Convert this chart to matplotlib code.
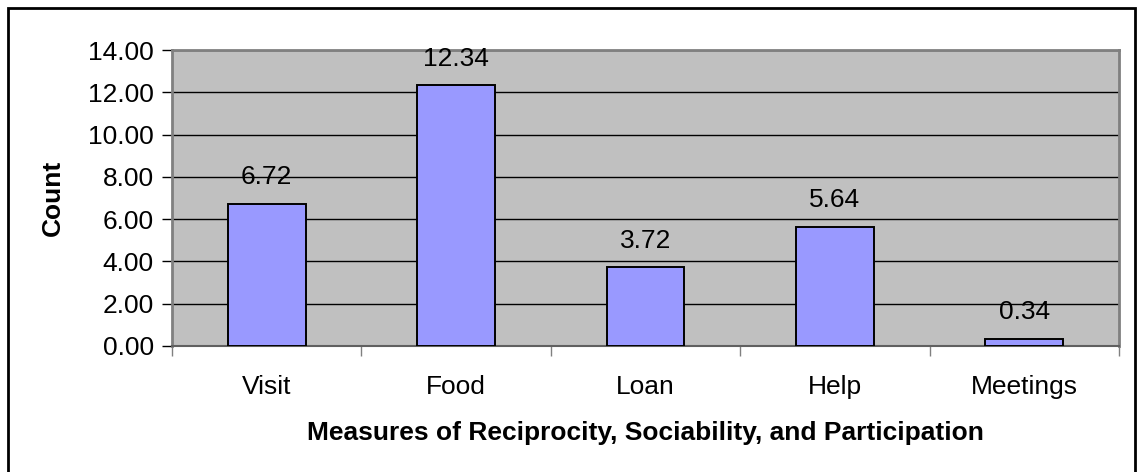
import numpy as np
import matplotlib.pyplot as plt
from matplotlib.patches import Rectangle

categories = ["Visit", "Food", "Loan", "Help", "Meetings"]
counts = [6.72, 12.34, 3.72, 5.64, 0.34]
yticks = [0, 2, 4, 6, 8, 10, 12, 14]

plt.rcParams['font.family'] = ['Liberation Sans', 'DejaVu Sans']
fs = 19

fig = plt.figure(figsize=(11.39, 4.72), dpi=100)
ax = fig.add_axes([0.151, 0.267, 0.8314, 0.627])
ax.set_facecolor('#C0C0C0')

x = np.arange(len(categories))
ax.bar(x, counts, width=0.41, color='#9999FF', edgecolor='black', linewidth=1.4, zorder=3)

for xi, v in zip(x, counts):
    ax.annotate(f"{v:.2f}", (xi, v), xytext=(0, 10.5), textcoords='offset points',
                ha='center', va='bottom', fontsize=fs, zorder=4)

ax.set_xlim(-0.5, len(categories) - 0.5)
ax.set_ylim(0, 14)
ax.set_yticks(yticks)
ax.set_yticklabels([f"{t:.2f}" for t in yticks], fontsize=fs)
ax.yaxis.grid(True, color='black', linewidth=1.0, zorder=0)
ax.set_axisbelow(True)

# ticks between categories, names centred under the bars
ax.set_xticks(np.arange(len(categories) + 1) - 0.5)
ax.set_xticklabels([])
ax.set_xticks(x, minor=True)
ax.set_xticklabels(categories, minor=True, fontsize=fs)
ax.tick_params(axis='x', which='major', length=7, color='#808080', width=1)
ax.tick_params(axis='x', which='minor', length=0, pad=21)
ax.tick_params(axis='y', length=7, color='black', width=1, pad=6)

for side in ['top', 'right', 'left']:
    ax.spines[side].set_color('#808080')
    ax.spines[side].set_linewidth(2)
ax.spines['bottom'].set_color('#606060')
ax.spines['bottom'].set_linewidth(1.5)

ax.set_xlabel("Measures of Reciprocity, Sociability, and Participation",
              fontsize=fs, fontweight='bold', labelpad=16)
ax.set_ylabel("Count", fontsize=fs, fontweight='bold', labelpad=17)

# outer chart frame
fig.patches.append(Rectangle((8 / 1139, -0.05), 1127 / 1139, 1 - 8 / 472 + 0.05,
                             transform=fig.transFigure, fill=False,
                             edgecolor='black', linewidth=2))

fig.savefig("out.png", dpi=100)
